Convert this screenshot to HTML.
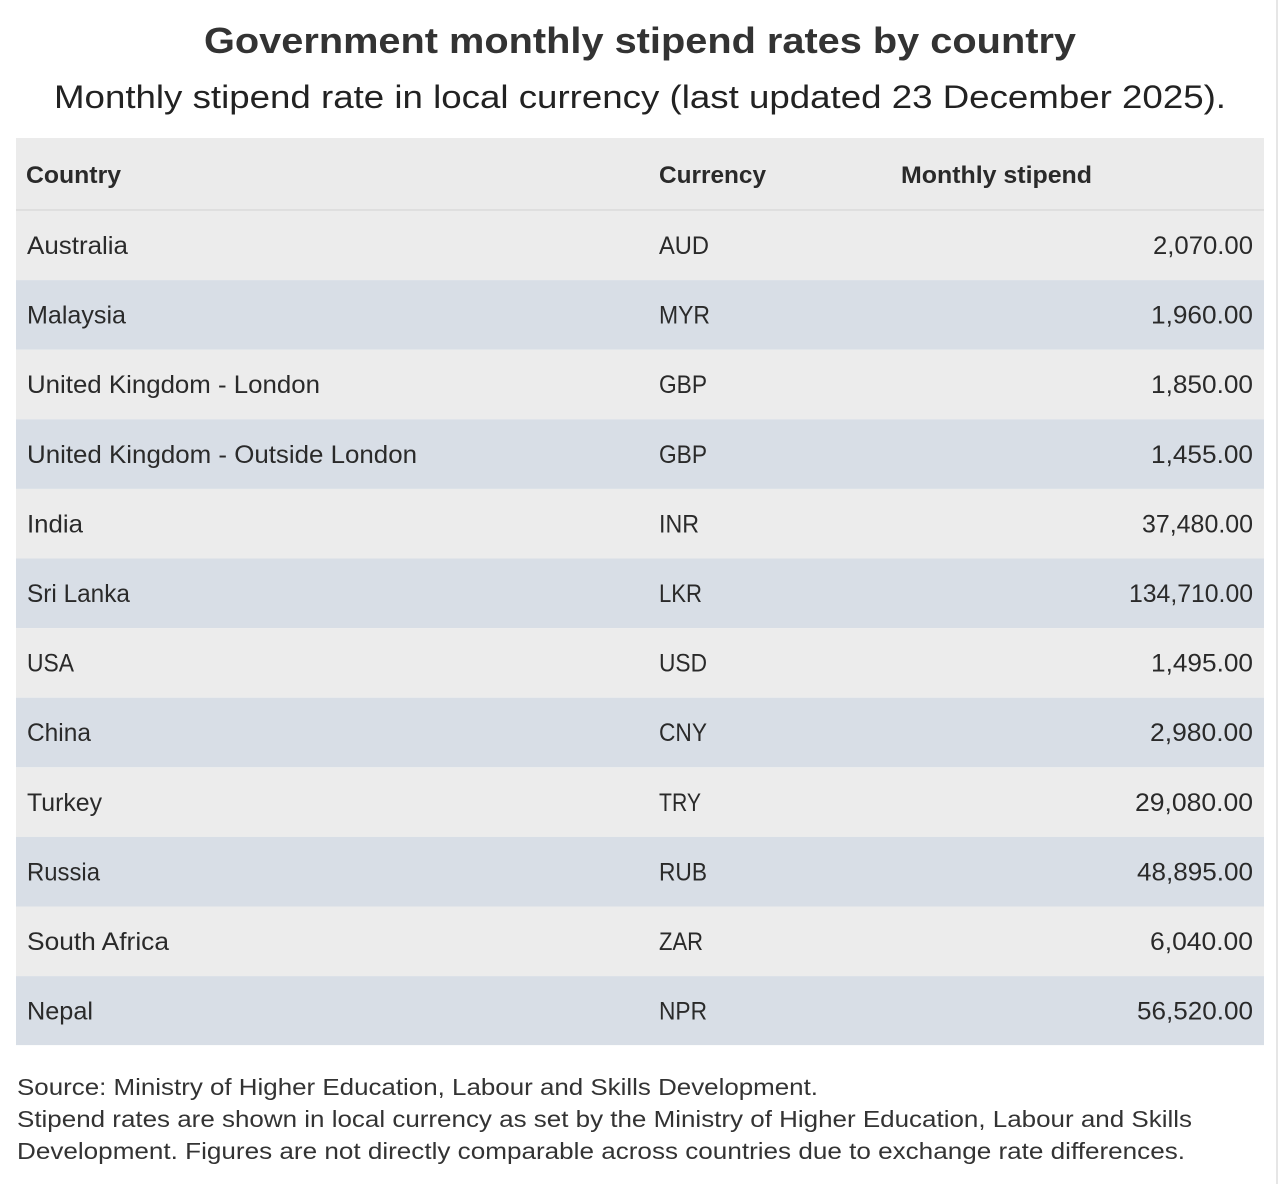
<!DOCTYPE html>
<html>
<head>
<meta charset="utf-8">
<style>
  html,body{margin:0;padding:0;background:#fff;}
  svg{display:block;}
  text{font-family:"Liberation Sans",sans-serif;}
</style>
</head>
<body>
<svg width="1280" height="1184" viewBox="0 0 1280 1184" xmlns="http://www.w3.org/2000/svg">
  <rect x="0" y="0" width="1280" height="1184" fill="#ffffff"/>
  <rect x="1276" y="0" width="2" height="1184" fill="#e6e6e6"/>

  <text x="640" y="53" text-anchor="middle" font-size="36" font-weight="bold" fill="#333333" textLength="872" lengthAdjust="spacingAndGlyphs">Government monthly stipend rates by country</text>
  <text x="640" y="108" text-anchor="middle" font-size="32" fill="#222222" textLength="1172" lengthAdjust="spacingAndGlyphs">Monthly stipend rate in local currency (last updated 23 December 2025).</text>

  <!-- header -->
  <rect x="16" y="138" width="1248" height="72" fill="#ebebeb"/>
  <rect x="16" y="209.5" width="1248" height="1" fill="#d2d2d2"/>
  <text x="26" y="183" font-size="24" font-weight="bold" fill="#2a2a2a" textLength="95" lengthAdjust="spacingAndGlyphs">Country</text>
  <text x="659" y="183" font-size="24" font-weight="bold" fill="#2a2a2a" textLength="107" lengthAdjust="spacingAndGlyphs">Currency</text>
  <text x="901" y="183" font-size="24" font-weight="bold" fill="#2a2a2a" textLength="191" lengthAdjust="spacingAndGlyphs">Monthly stipend</text>

  <!-- rows -->
  <g font-size="25" fill="#2a2a2a">
    <rect x="16" y="210.5" width="1248" height="69.6" fill="#ececec"/>
    <rect x="16" y="280.1" width="1248" height="69.6" fill="#d8dee6"/>
    <rect x="16" y="349.7" width="1248" height="69.6" fill="#ececec"/>
    <rect x="16" y="419.3" width="1248" height="69.6" fill="#d8dee6"/>
    <rect x="16" y="488.9" width="1248" height="69.6" fill="#ececec"/>
    <rect x="16" y="558.5" width="1248" height="69.6" fill="#d8dee6"/>
    <rect x="16" y="628.1" width="1248" height="69.6" fill="#ececec"/>
    <rect x="16" y="697.7" width="1248" height="69.6" fill="#d8dee6"/>
    <rect x="16" y="767.3" width="1248" height="69.6" fill="#ececec"/>
    <rect x="16" y="836.9" width="1248" height="69.6" fill="#d8dee6"/>
    <rect x="16" y="906.5" width="1248" height="69.6" fill="#ececec"/>
    <rect x="16" y="976.1" width="1248" height="69.0" fill="#d8dee6"/>

    <text x="27" y="254" textLength="101" lengthAdjust="spacingAndGlyphs">Australia</text>
    <text x="659" y="254" textLength="50" lengthAdjust="spacingAndGlyphs">AUD</text>
    <text x="1253" y="254" text-anchor="end" textLength="100" lengthAdjust="spacingAndGlyphs">2,070.00</text>

    <text x="27" y="323.6" textLength="99" lengthAdjust="spacingAndGlyphs">Malaysia</text>
    <text x="659" y="323.6" textLength="51" lengthAdjust="spacingAndGlyphs">MYR</text>
    <text x="1253" y="323.6" text-anchor="end" textLength="102" lengthAdjust="spacingAndGlyphs">1,960.00</text>

    <text x="27" y="393.2" textLength="293" lengthAdjust="spacingAndGlyphs">United Kingdom - London</text>
    <text x="659" y="393.2" textLength="48" lengthAdjust="spacingAndGlyphs">GBP</text>
    <text x="1253" y="393.2" text-anchor="end" textLength="102" lengthAdjust="spacingAndGlyphs">1,850.00</text>

    <text x="27" y="462.8" textLength="390" lengthAdjust="spacingAndGlyphs">United Kingdom - Outside London</text>
    <text x="659" y="462.8" textLength="48" lengthAdjust="spacingAndGlyphs">GBP</text>
    <text x="1253" y="462.8" text-anchor="end" textLength="102" lengthAdjust="spacingAndGlyphs">1,455.00</text>

    <text x="27" y="532.4" textLength="56" lengthAdjust="spacingAndGlyphs">India</text>
    <text x="659" y="532.4" textLength="40" lengthAdjust="spacingAndGlyphs">INR</text>
    <text x="1253" y="532.4" text-anchor="end" textLength="111" lengthAdjust="spacingAndGlyphs">37,480.00</text>

    <text x="27" y="602" textLength="103" lengthAdjust="spacingAndGlyphs">Sri Lanka</text>
    <text x="659" y="602" textLength="43" lengthAdjust="spacingAndGlyphs">LKR</text>
    <text x="1253" y="602" text-anchor="end" textLength="124" lengthAdjust="spacingAndGlyphs">134,710.00</text>

    <text x="27" y="671.6" textLength="47" lengthAdjust="spacingAndGlyphs">USA</text>
    <text x="659" y="671.6" textLength="48" lengthAdjust="spacingAndGlyphs">USD</text>
    <text x="1253" y="671.6" text-anchor="end" textLength="102" lengthAdjust="spacingAndGlyphs">1,495.00</text>

    <text x="27" y="741.2" textLength="64" lengthAdjust="spacingAndGlyphs">China</text>
    <text x="659" y="741.2" textLength="48" lengthAdjust="spacingAndGlyphs">CNY</text>
    <text x="1253" y="741.2" text-anchor="end" textLength="103" lengthAdjust="spacingAndGlyphs">2,980.00</text>

    <text x="27" y="810.8" textLength="75" lengthAdjust="spacingAndGlyphs">Turkey</text>
    <text x="659" y="810.8" textLength="42" lengthAdjust="spacingAndGlyphs">TRY</text>
    <text x="1253" y="810.8" text-anchor="end" textLength="118" lengthAdjust="spacingAndGlyphs">29,080.00</text>

    <text x="27" y="880.4" textLength="73" lengthAdjust="spacingAndGlyphs">Russia</text>
    <text x="659" y="880.4" textLength="48" lengthAdjust="spacingAndGlyphs">RUB</text>
    <text x="1253" y="880.4" text-anchor="end" textLength="116" lengthAdjust="spacingAndGlyphs">48,895.00</text>

    <text x="27" y="950" textLength="142" lengthAdjust="spacingAndGlyphs">South Africa</text>
    <text x="659" y="950" textLength="44" lengthAdjust="spacingAndGlyphs">ZAR</text>
    <text x="1253" y="950" text-anchor="end" textLength="103" lengthAdjust="spacingAndGlyphs">6,040.00</text>

    <text x="27" y="1019.6" textLength="66" lengthAdjust="spacingAndGlyphs">Nepal</text>
    <text x="659" y="1019.6" textLength="48" lengthAdjust="spacingAndGlyphs">NPR</text>
    <text x="1253" y="1019.6" text-anchor="end" textLength="116" lengthAdjust="spacingAndGlyphs">56,520.00</text>
  </g>

  <!-- footnotes -->
  <g font-size="23" fill="#333333">
    <text x="17" y="1095" textLength="801" lengthAdjust="spacingAndGlyphs">Source: Ministry of Higher Education, Labour and Skills Development.</text>
    <text x="17" y="1127" textLength="1175" lengthAdjust="spacingAndGlyphs">Stipend rates are shown in local currency as set by the Ministry of Higher Education, Labour and Skills</text>
    <text x="17" y="1159" textLength="1168" lengthAdjust="spacingAndGlyphs">Development. Figures are not directly comparable across countries due to exchange rate differences.</text>
  </g>
</svg>
</body>
</html>
